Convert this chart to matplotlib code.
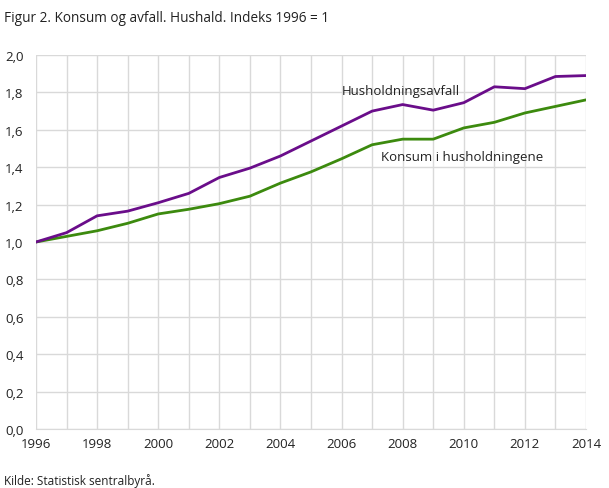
import numpy as np
import matplotlib.pyplot as plt

plt.rcParams['font.family'] = ['Open Sans', 'DejaVu Sans']

years = list(range(1996, 2015))
avfall = [1.0, 1.05, 1.14, 1.165, 1.21, 1.26, 1.345, 1.395, 1.46, 1.54, 1.62,
          1.70, 1.735, 1.705, 1.745, 1.83, 1.82, 1.885, 1.89]
konsum = [1.0, 1.03, 1.06, 1.10, 1.15, 1.175, 1.205, 1.245, 1.315, 1.375, 1.445,
          1.52, 1.55, 1.55, 1.61, 1.64, 1.69, 1.725, 1.76]

fig = plt.figure(figsize=(6.09, 4.89), dpi=100)
ax = fig.add_axes([36/609, 1-430/489, 550/609, 374/489])

ax.plot(years, konsum, color='#3c8a0e', lw=2)
ax.plot(years, avfall, color='#6a0d8a', lw=2)

ax.set_xlim(1996, 2014)
ax.set_ylim(0, 2.0)
ax.set_xticks(years, minor=True)
ax.set_xticks(range(1996, 2015, 2))
ax.set_yticks(np.arange(0, 2.01, 0.2))
ax.set_yticklabels([f"{v:.1f}".replace('.', ',') for v in np.arange(0, 2.01, 0.2)])
ax.grid(True, which='both', color='#d9d9d9', lw=1)
ax.set_axisbelow(True)
for s in ['top', 'right', 'left']:
    ax.spines[s].set_visible(False)
ax.spines['bottom'].set_color('#d9d9d9')
ax.tick_params(which='both', length=0, labelsize=9.5, colors='#222222')
ax.tick_params(axis='y', pad=9)
ax.tick_params(axis='x', pad=6)

ax.text(2006.0, 1.81, 'Husholdningsavfall', fontsize=9.5, color='#222222', va='center')
ax.text(2007.3, 1.455, 'Konsum i husholdningene', fontsize=9.5, color='#222222', va='center')

fig.text(4/609, 1-18/489, 'Figur 2. Konsum og avfall. Hushald. Indeks 1996 = 1',
         fontsize=9.8, va='center', color='#222222')
fig.text(4/609, 1-481/489, 'Kilde: Statistisk sentralbyrå.', fontsize=8.5,
         va='center', color='#222222')

fig.savefig('out.png', dpi=100)
